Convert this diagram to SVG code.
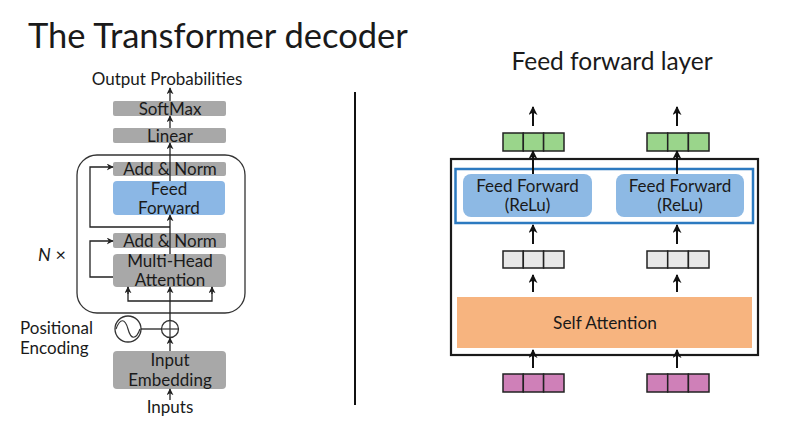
<svg xmlns="http://www.w3.org/2000/svg" width="805" height="422" viewBox="0 0 805 422">
<style>
text{font-family:Lato,"Open Sans","Liberation Sans",sans-serif;fill:#1a1a1a}
.gb{fill:#a8a8a8}
.lbl{font-size:17px;text-anchor:middle}
.ln{fill:none;stroke:#222;stroke-width:1.3}
.ar{fill:none;stroke:#111;stroke-width:2}
.cell{stroke:#222;stroke-width:1.5}
.ffr{fill:#8db9e4}
</style>
<defs>
<marker id="ah" viewBox="0 0 10 10" refX="9" refY="5" markerWidth="7" markerHeight="7" markerUnits="userSpaceOnUse" orient="auto">
<path d="M0,0 L10,5 L0,10 L3,5 z" fill="#222"/>
</marker>
<marker id="ah2" viewBox="0 0 10 10" refX="9" refY="5" markerWidth="9" markerHeight="9" markerUnits="userSpaceOnUse" orient="auto">
<path d="M0,0 L10,5 L0,10 L3,5 z" fill="#111"/>
</marker>
</defs>
<rect width="805" height="422" fill="#fff"/>
<text x="28" y="48" font-size="34.5">The Transformer decoder</text>
<line x1="355" y1="92" x2="355" y2="405" stroke="#111" stroke-width="2"/>
<text x="612" y="70" font-size="24.5" text-anchor="middle">Feed forward layer</text>

<!-- Left: decoder -->
<g id="outer-block"><rect x="77" y="155" width="168" height="158" rx="20" fill="none" stroke="#333" stroke-width="1.3"/></g>
<g id="output-prob"><text class="lbl" x="167" y="85">Output Probabilities</text></g>
<g id="softmax"><rect class="gb" x="113" y="101" width="113" height="15" rx="2"/><text class="lbl" x="170" y="114.5">SoftMax</text></g>
<g id="linear"><rect class="gb" x="113" y="128" width="113" height="15" rx="2"/><text class="lbl" x="170" y="141.5">Linear</text></g>
<g id="addnorm2"><rect class="gb" x="113" y="162" width="113" height="14" rx="2"/><text class="lbl" x="170" y="175">Add &amp; Norm</text></g>
<g id="feedforward"><rect x="113" y="181" width="112" height="34" rx="4" fill="#8bb7e5"/><text class="lbl" x="169" y="195">Feed</text><text class="lbl" x="169" y="214">Forward</text></g>
<g id="addnorm1"><rect class="gb" x="113" y="233" width="113" height="15" rx="2"/><text class="lbl" x="170" y="246.5">Add &amp; Norm</text></g>
<g id="mha"><rect class="gb" x="113" y="254" width="113" height="33" rx="4"/><text class="lbl" x="170" y="266.5" font-size="15">Multi-Head</text><text class="lbl" x="170" y="285.5" font-size="15">Attention</text></g>
<g id="nx"><text x="38" y="261" font-size="18" font-family="'Liberation Serif',serif"><tspan font-style="italic">N</tspan> ×</text></g>
<g id="posenc"><text x="20" y="334" font-size="17">Positional</text><text x="20" y="354" font-size="17">Encoding</text>
<circle cx="128" cy="329" r="13" fill="none" stroke="#333" stroke-width="1.3"/>
<path d="M116,329 C120,318 125,318 128,329 C131,340 136,340 140,329" fill="none" stroke="#333" stroke-width="1.2"/></g>
<g id="plus"><circle cx="170" cy="329" r="8.5" fill="none" stroke="#333" stroke-width="1.3"/><line x1="161.5" y1="329" x2="178.5" y2="329" stroke="#333" stroke-width="1.2"/><line x1="170" y1="320.5" x2="170" y2="337.5" stroke="#333" stroke-width="1.2"/></g>
<g id="input-emb"><rect class="gb" x="113" y="351" width="113" height="38" rx="4"/><text class="lbl" x="170" y="366">Input</text><text class="lbl" x="170" y="386">Embedding</text></g>
<g id="inputs"><text class="lbl" x="170" y="413">Inputs</text></g>

<!-- Right: feed forward layer -->
<g id="ffl-block"><rect x="451" y="159" width="307" height="196" fill="none" stroke="#1a1a1a" stroke-width="2.2"/></g>
<g id="ff-group"><rect x="455.5" y="169" width="297.5" height="54" fill="none" stroke="#2c7ac0" stroke-width="2.5"/></g>
<g id="ff1"><rect class="ffr" x="463" y="174" width="129" height="43" rx="8"/><text class="lbl" x="527.5" y="192">Feed Forward</text><text class="lbl" x="527.5" y="211">(ReLu)</text></g>
<g id="ff2"><rect class="ffr" x="616" y="174" width="128" height="43" rx="8"/><text class="lbl" x="680" y="192">Feed Forward</text><text class="lbl" x="680" y="211">(ReLu)</text></g>
<g id="self-attn"><rect x="457" y="297" width="295" height="51" fill="#f7b47f"/><text x="605" y="329" font-size="17.3" text-anchor="middle">Self Attention</text></g>
<g id="out1"><rect class="cell" x="503" y="133" width="20.3" height="18" fill="#9ad58b"/><rect class="cell" x="523.3" y="133" width="20.3" height="18" fill="#9ad58b"/><rect class="cell" x="543.6" y="133" width="20.4" height="18" fill="#9ad58b"/></g>
<g id="out2"><rect class="cell" x="647" y="133" width="20.7" height="18" fill="#9ad58b"/><rect class="cell" x="667.7" y="133" width="20.7" height="18" fill="#9ad58b"/><rect class="cell" x="688.4" y="133" width="20.6" height="18" fill="#9ad58b"/></g>
<g id="mid1"><rect class="cell" x="503" y="251" width="20.3" height="17" fill="#e8e8e8"/><rect class="cell" x="523.3" y="251" width="20.3" height="17" fill="#e8e8e8"/><rect class="cell" x="543.6" y="251" width="20.4" height="17" fill="#e8e8e8"/></g>
<g id="mid2"><rect class="cell" x="647" y="251" width="20.7" height="17" fill="#e8e8e8"/><rect class="cell" x="667.7" y="251" width="20.7" height="17" fill="#e8e8e8"/><rect class="cell" x="688.4" y="251" width="20.6" height="17" fill="#e8e8e8"/></g>
<g id="in1"><rect class="cell" x="503" y="374" width="20.3" height="18" fill="#cf80b8"/><rect class="cell" x="523.3" y="374" width="20.3" height="18" fill="#cf80b8"/><rect class="cell" x="543.6" y="374" width="20.4" height="18" fill="#cf80b8"/></g>
<g id="in2"><rect class="cell" x="647" y="374" width="20.7" height="18" fill="#cf80b8"/><rect class="cell" x="667.7" y="374" width="20.7" height="18" fill="#cf80b8"/><rect class="cell" x="688.4" y="374" width="20.6" height="18" fill="#cf80b8"/></g>

<g id="connectors">
<!-- left -->
<line class="ln" x1="170" y1="400" x2="170" y2="389" marker-end="url(#ah)"/>
<line class="ln" x1="170" y1="351" x2="170" y2="338" marker-end="url(#ah)"/>
<line class="ln" x1="141" y1="329" x2="161.5" y2="329"/>
<line class="ln" x1="170" y1="320.5" x2="170" y2="301"/>
<polyline class="ln" points="128,287 128,301 212,301 212,287"/>
<line class="ln" x1="128" y1="294" x2="128" y2="287" marker-end="url(#ah)"/>
<line class="ln" x1="212" y1="294" x2="212" y2="287" marker-end="url(#ah)"/>
<line class="ln" x1="170" y1="301" x2="170" y2="287" marker-end="url(#ah)"/>
<polyline class="ln" points="113,277 90,277 90,241 113,241" marker-end="url(#ah)"/>
<line class="ln" x1="170" y1="254" x2="170" y2="215" marker-end="url(#ah)"/>
<polyline class="ln" points="170,227 90,227 90,167 113,167" marker-end="url(#ah)"/>
<line class="ln" x1="170" y1="181" x2="170" y2="143" marker-end="url(#ah)"/>
<line class="ln" x1="170" y1="128" x2="170" y2="116" marker-end="url(#ah)"/>
<line class="ln" x1="170" y1="101" x2="170" y2="88" marker-end="url(#ah)"/>
<!-- right -->
<line class="ar" x1="533" y1="126" x2="533" y2="107" marker-end="url(#ah2)"/>
<line class="ar" x1="677" y1="126" x2="677" y2="107" marker-end="url(#ah2)"/>
<line class="ar" x1="533" y1="174" x2="533" y2="151" marker-end="url(#ah2)"/>
<line class="ar" x1="677" y1="174" x2="677" y2="151" marker-end="url(#ah2)"/>
<line class="ar" x1="533" y1="244" x2="533" y2="225" marker-end="url(#ah2)"/>
<line class="ar" x1="677" y1="244" x2="677" y2="225" marker-end="url(#ah2)"/>
<line class="ar" x1="533" y1="292" x2="533" y2="275" marker-end="url(#ah2)"/>
<line class="ar" x1="677" y1="292" x2="677" y2="275" marker-end="url(#ah2)"/>
<line class="ar" x1="533" y1="368" x2="533" y2="350" marker-end="url(#ah2)"/>
<line class="ar" x1="677" y1="368" x2="677" y2="350" marker-end="url(#ah2)"/>
</g>
</svg>
